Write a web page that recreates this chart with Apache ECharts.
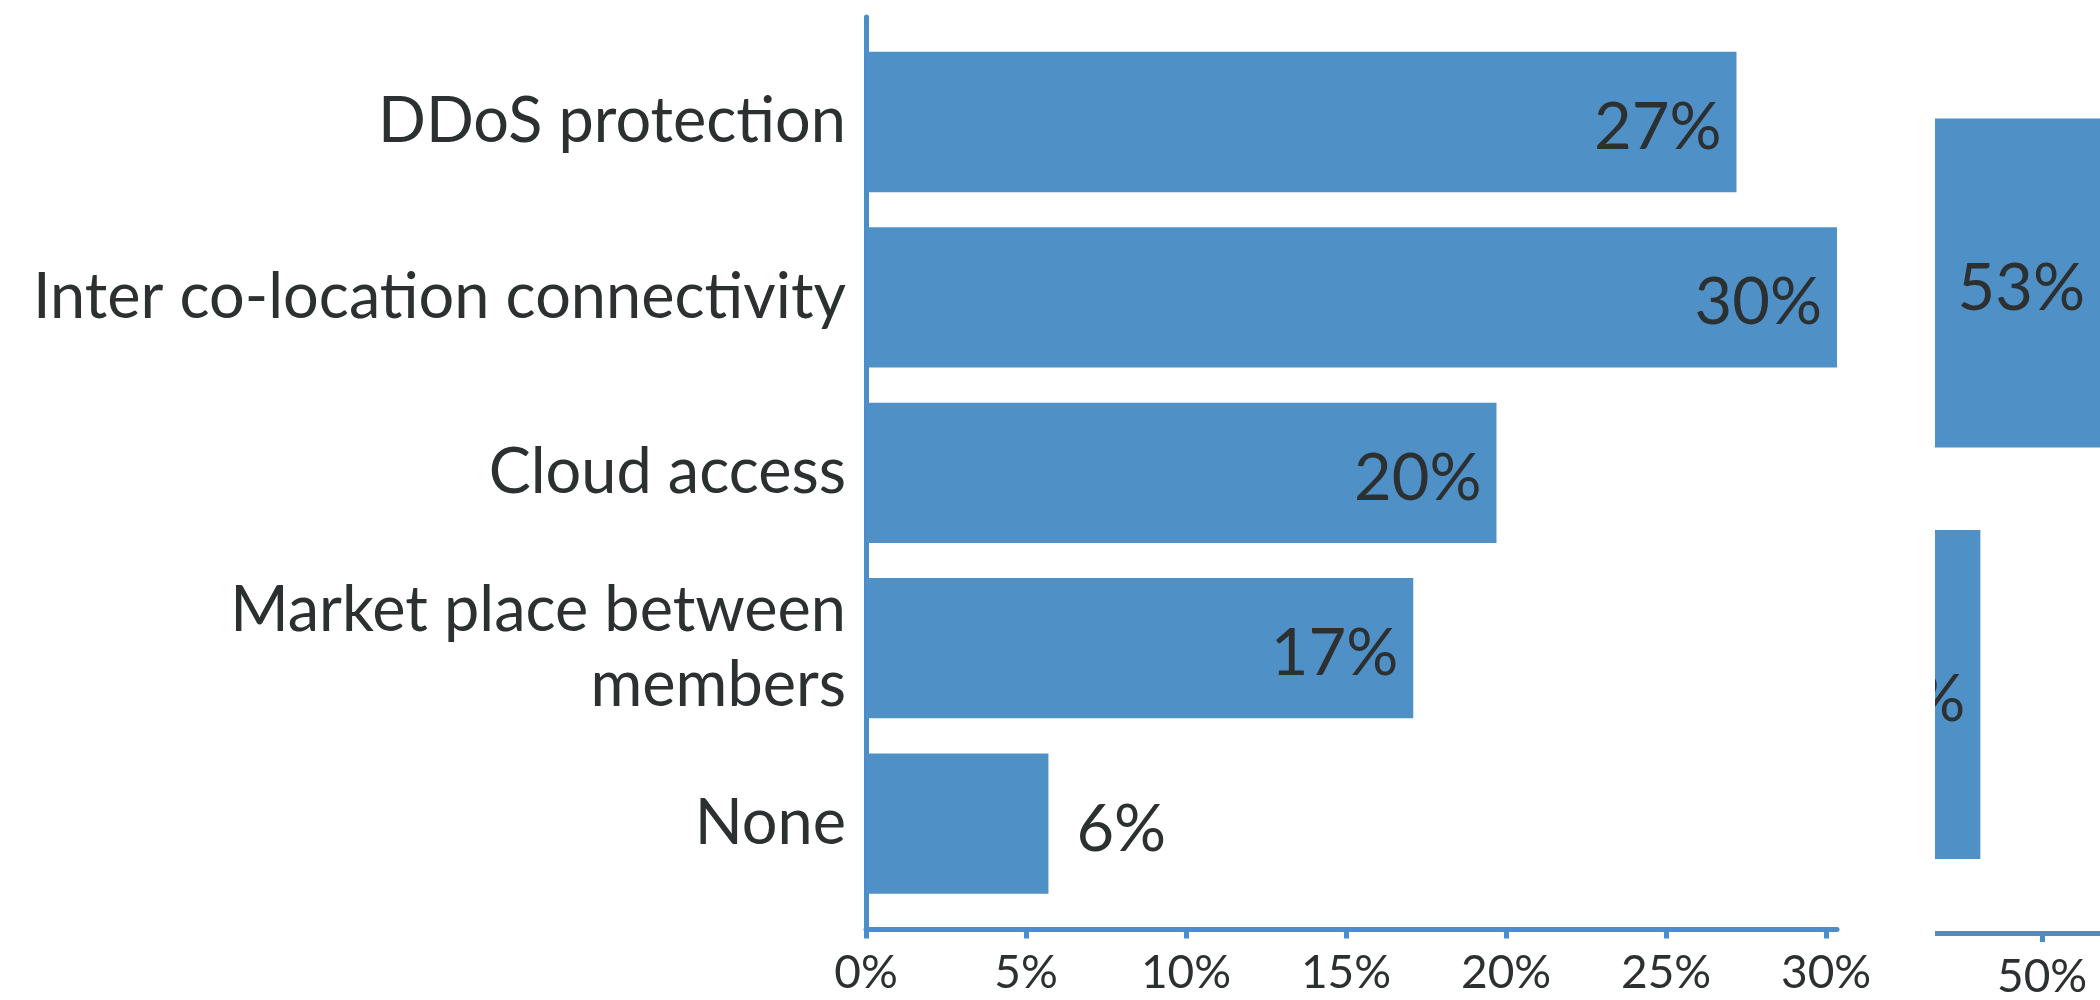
<!DOCTYPE html>
<html>
<head>
<meta charset="utf-8">
<script src="https://cdn.jsdelivr.net/npm/echarts@6/dist/echarts.min.js"></script>
<style>
  html, body { margin: 0; padding: 0; background: #ffffff; }
  #main { position: absolute; left: 0; top: 0; width: 2100px; height: 1000px; }
  #side { position: absolute; left: 1935px; top: 0; width: 165px; height: 1000px; }
</style>
</head>
<body>
<div id="main"></div>
<div id="side"></div>
<script>
// ---- data (main panel) ----
const categories = [
  'DDoS protection',
  'Inter co-location connectivity',
  'Cloud access',
  'Market place between\nmembers',
  'None'
];
const values = [27.2, 30.4, 19.7, 17.1, 5.7];
const xTicks = [0, 5, 10, 15, 20, 25, 30];

// ---- data (cropped right panel) ----
const categories2 = ['Item 1', 'Item 2'];
const values2 = [53.0, 46.8];
const xTicks2 = [50];

const BLUE = '#4f91c7';
const AXIS = '#4b8dcb';
const TEXT = '#2c3031';
const FONT = 'Lato';

const pct = v => Math.round(v) + '%';

// ---------------- main chart ----------------
const main = echarts.init(document.getElementById('main'), null, { renderer: 'canvas' });
main.setOption({
  animation: false,
  textStyle: { fontFamily: FONT },
  grid: [
    { left: 866, top: 17, width: 971, height: 912.5 },   // axis frame
    { left: 866, top: 34.3, width: 971, height: 877 }    // bar band area
  ],
  xAxis: [
    {
      gridIndex: 0, type: 'value', min: 0, max: 30.34,
      axisLine: { show: true, lineStyle: { color: AXIS, width: 5 } },
      axisTick: { show: true, length: 9, customValues: xTicks, lineStyle: { color: AXIS, width: 5 } },
      axisLabel: { customValues: xTicks, formatter: '{value}%', fontSize: 46, color: TEXT, margin: 21, fontFamily: FONT },
      splitLine: { show: false }
    },
    { gridIndex: 1, type: 'value', min: 0, max: 30.34, show: false }
  ],
  yAxis: [
    {
      gridIndex: 0, type: 'value', min: 0, max: 1,
      axisLine: { show: true, lineStyle: { color: AXIS, width: 5 } },
      axisTick: { show: false }, axisLabel: { show: false }, splitLine: { show: false }
    },
    {
      gridIndex: 1, type: 'category', inverse: true,
      data: categories.map(c => ({
        value: c,
        textStyle: c.indexOf('\n') >= 0 ? { padding: [0, 0, 24, 0] } : { padding: [22, 0, 0, 0] }
      })),
      axisLine: { show: false }, axisTick: { show: false }, splitLine: { show: false },
      axisLabel: { fontSize: 63, lineHeight: 75, color: TEXT, margin: 20, fontFamily: FONT, align: 'right' }
    }
  ],
  series: [{
    type: 'bar', xAxisIndex: 1, yAxisIndex: 1,
    barCategoryGap: '20%',
    itemStyle: { color: BLUE },
    label: {
      show: true, position: 'insideRight', distance: 15, offset: [0, 6],
      formatter: p => pct(p.value), fontSize: 65, color: TEXT, fontFamily: FONT
    },
    data: values.map(v => v < 10
      ? { value: v, label: { position: 'right', distance: 28 } }
      : { value: v })
  }]
});

// ---------------- cropped right panel ----------------
const side = echarts.init(document.getElementById('side'), null, { renderer: 'canvas' });
side.setOption({
  animation: false,
  textStyle: { fontFamily: FONT },
  grid: [
    { left: 0, right: 0, top: 17, bottom: 57.5 },
    { left: 0, right: 0, top: 77.25, height: 823 }
  ],
  xAxis: [
    {
      gridIndex: 0, type: 'value', min: 44.45, max: 53.0,
      axisLine: { show: true, lineStyle: { color: AXIS, width: 5 } },
      axisTick: { show: true, length: 9, customValues: xTicks2, lineStyle: { color: AXIS, width: 5 } },
      axisLabel: { customValues: xTicks2, formatter: '{value}%', fontSize: 46, color: TEXT, margin: 21, fontFamily: FONT },
      splitLine: { show: false }
    },
    { gridIndex: 1, type: 'value', min: 44.45, max: 53.0, show: false }
  ],
  yAxis: [
    { gridIndex: 0, type: 'value', show: false, splitLine: { show: false } },
    { gridIndex: 1, type: 'category', inverse: true, data: categories2, show: false }
  ],
  series: [{
    type: 'bar', xAxisIndex: 1, yAxisIndex: 1,
    barCategoryGap: '20%', clip: true,
    itemStyle: { color: BLUE },
    label: {
      show: true, position: 'insideRight', distance: 15, offset: [0, 6],
      formatter: p => pct(p.value), fontSize: 65, color: TEXT, fontFamily: FONT
    },
    data: values2
  }]
});
</script>
</body>
</html>
